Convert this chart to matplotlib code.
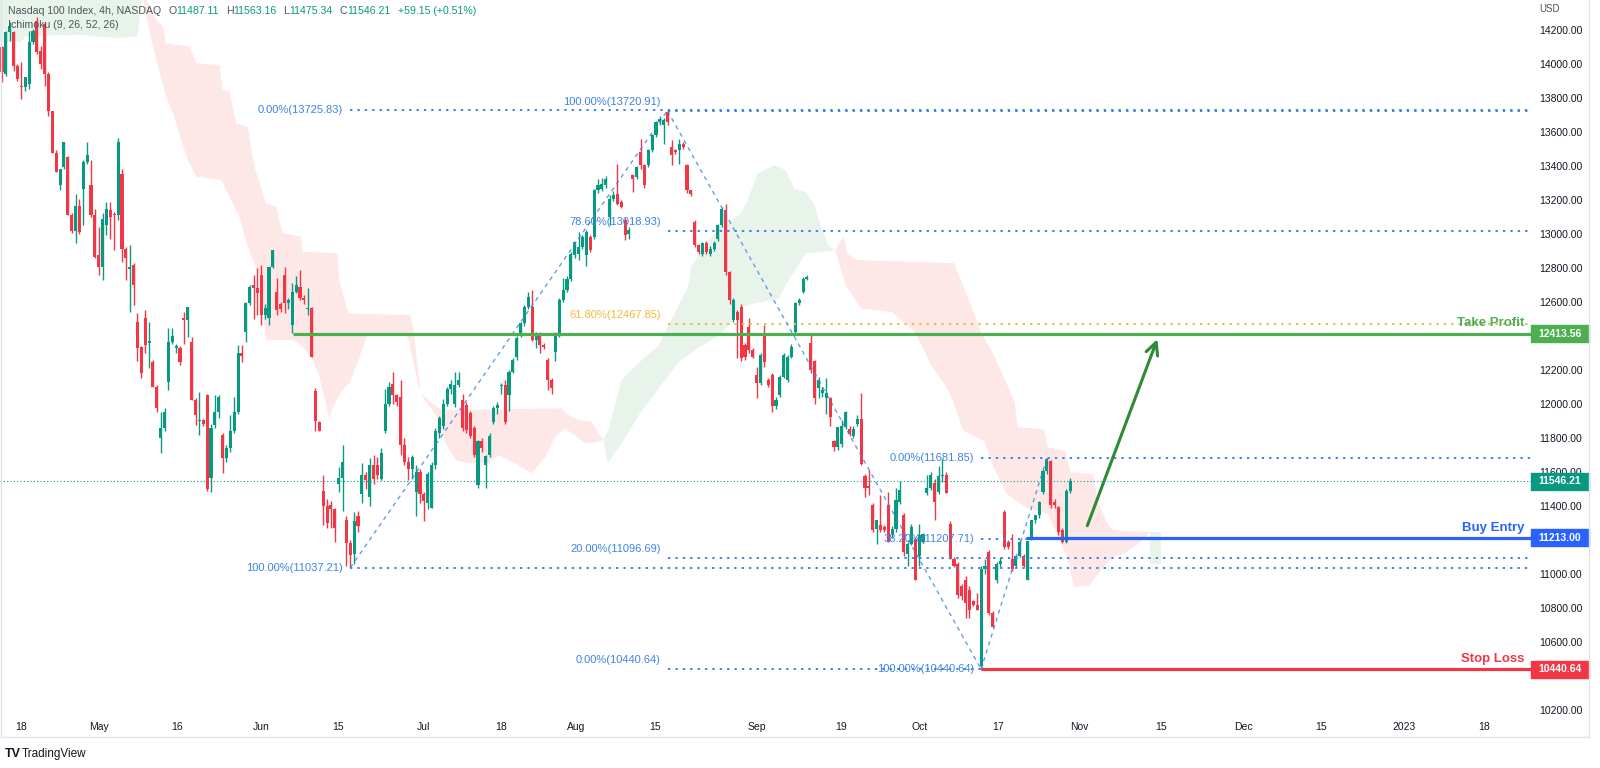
import matplotlib
matplotlib.use("Agg")
import matplotlib.pyplot as plt
import matplotlib.transforms as mtransforms
from matplotlib.patches import Rectangle
from matplotlib.lines import Line2D
import numpy as np

plt.rcParams['font.family'] = ['Liberation Sans', 'DejaVu Sans']

# ---- 4h candles (Apr -> Oct 28 2022) ----
opens = [14096,13940,14184,14184,13989,13870,13861,13881,14125,14252,14076,14233,13940,13719,13476,13285,13392,13451,13113,13015,
         13163,13265,13422,13285,13113,12874,12806,13050,13138,13118,13109,13353,12913,12795,12815,12483,12336,12506,12360,12248,
         12102,11799,11858,12131,12365,12327,12327,12506,12493,12366,12024,11897,11906,12053,11564,11877,11955,11818,11681,11740,
         11838,11955,12297,12424,12596,
         12698,12680,12757,12522,12503,12806,12659,12586,12757,12591,12464,12659,12689,12620,12556,12561,
         12073,11893,11486,11398,11408,11380,11530,11564,11320,11183,11115,11340,11470,11583,11450,11640,11640,11560,11840,12000,
         12120,12050,12040,11760,11660,11620,11480,11600,11470,11420,11390,11640,11830,11870,12000,12090,12000,12110,12024,11994,
         11945,11857,11525,
         11780,11642,11700,11896,11975,12105,12112,12053,12190,12278,12405,12473,12571,12571,12376,12405,12346,12258,12141,12307,
         12405,12610,12670,12737,
         12874,12880,12923,12874,12981,12981,13255,13265,13285,13099,13207,13236,13187,13080,13001,13343,13333,13480,13402,13402,
         13490,13578,13656,13637,13715,13510,13490,13490,13529,13402,13255,13070,12933,12884,12943,12884,12913,12972,13050,13138,
         12776,12493,12542,12571,12346,12454,12317,12170,12121,12405,12141,12170,11985,12053,12161,12141,12278,12424,12591,12659,
         12737,
         12360,12250,12091,12062,12032,12032,11783,11744,11763,11863,11853,11813,11883,11912,11574,11515,11405,11267,11287,11277,
         11405,11227,11267,11426,11346,11118,11177,11207,11108,11187,11475,11505,11535,11485,11574,11584,11297,11088,11058,10929,
         10968,10909,10839,10820,10462,11028,11128,10770,10968,11058,11366,11187,11088,11048,11108,11108,10968,11207,11316,11346,
         11485,11604,11664,11426,11396,11257,11187,11487.11]
highs = [14105,14194,14243,14194,13995,14008,13920,14194,14203,14272,14105,14243,13950,13724,13490,13382,13539,13460,13120,13236,
         13207,13431,13539,13431,13148,13040,13120,13187,13187,13130,13562,13380,12923,12932,12830,12532,12340,12551,12483,12260,
         12110,11955,11975,12444,12444,12350,12340,12542,12571,12395,12033,12072,11910,12060,11880,12053,12053,11830,11760,11936,
         12043,12346,12346,12600,12698,
         12757,12800,12815,12590,12806,12903,12740,12600,12806,12620,12708,12750,12786,12640,12680,12570,
         12096,11900,11584,11440,11430,11390,11627,11760,11340,11200,11364,11370,11650,11600,11680,11700,11690,11740,12090,12130,
         12190,12060,12140,11800,11690,11700,11640,11620,11480,11600,11660,11860,11930,12030,12100,12140,12190,12190,12060,12010,
         11960,11870,11790,
         11800,11700,11830,11990,12010,12125,12140,12200,12270,12400,12480,12580,12660,12670,12420,12420,12360,12270,12150,12420,
         12620,12740,12750,12890,
         12960,13010,12990,13020,12990,13265,13320,13330,13340,13230,13250,13412,13200,13090,13040,13350,13400,13558,13410,13500,
         13585,13660,13690,13680,13721,13549,13500,13558,13540,13412,13260,13079,12940,12950,12960,12930,12960,13060,13160,13177,
         12780,12620,12550,12590,12360,12503,12330,12219,12300,12464,12150,12180,12040,12170,12300,12290,12350,12600,12620,12745,
         12760,
         12419,12260,12161,12100,12151,12040,11790,11800,11903,11960,11870,11870,11932,12062,11590,11614,11415,11290,11465,11290,
         11480,11280,11505,11545,11360,11187,11296,11220,11296,11240,11584,11600,11560,11634,11674,11600,11310,11100,11070,10940,
         10990,10930,10850,10890,11048,11090,11140,10780,11070,11100,11376,11200,11237,11110,11200,11120,11197,11320,11350,11430,
         11620,11682,11670,11440,11400,11270,11500,11563.16]
lows = [13891,13930,14135,13959,13900,13793,13842,13851,14116,14057,13969,13871,13695,13476,13362,13255,13382,13110,13006,12943,
        13000,13050,13412,13100,12855,12757,12727,12991,12972,12903,13080,12835,12727,12542,12581,12250,12150,12300,12210,12100,
        11955,11711,11840,12082,12350,12300,12229,12355,12395,12024,11877,11818,11870,11490,11480,11860,11920,11594,11660,11720,
        11830,11940,12248,12365,12580,
        12500,12522,12464,12500,12464,12800,12522,12540,12532,12560,12415,12650,12610,12590,12522,12278,
        11842,11842,11291,11271,11270,11190,11480,11370,11050,11037,11060,11250,11420,11500,11400,11530,11560,11550,11830,11990,
        12000,11990,11700,11640,11550,11560,11340,11420,11310,11380,11390,11620,11800,11850,11990,12060,11980,12100,11840,11830,
        11800,11690,11505,
        11720,11505,11690,11880,11940,12060,11880,11960,12180,12260,12395,12460,12560,12370,12330,12300,12320,12080,12060,12250,
        12395,12600,12660,12720,
        12860,12845,12910,12810,12890,12970,13240,13250,13270,13050,13190,13170,13150,12962,12972,13245,13320,13380,13270,13395,
        13480,13570,13640,13529,13640,13402,13470,13412,13500,13240,13220,12920,12880,12870,12880,12870,12900,12960,13040,12760,
        12590,12480,12268,12250,12260,12300,12270,12034,12110,12219,12100,11955,11970,12040,12150,12130,12270,12415,12580,12650,
        12730,
        12181,12002,12032,12040,11942,11873,11724,11730,11744,11850,11810,11800,11870,11640,11455,11465,11247,11177,11250,11250,
        11187,11210,11250,11410,11108,11048,11170,10968,11048,11180,11465,11495,11316,11470,11540,11475,11088,11040,10860,10850,
        10740,10740,10810,10790,10441,11000,10760,10690,10950,11040,11150,11150,11020,11040,11100,11040,10968,11200,11300,11330,
        11470,11590,11390,11390,11230,11180,11180,11475.34]
closes = [13949,14184,14223,13989,13910,13860,13920,14129,14194,14067,13998,13940,13724,13476,13363,13382,13539,13113,13015,13163,
          13011,13422,13461,13113,12862,12806,13089,13144,13099,13109,13539,12913,12855,12800,12698,12327,12180,12346,12370,12102,
          11975,11858,11955,12365,12401,12340,12248,12495,12571,12024,11936,11906,11880,11500,11858,11955,12043,11681,11740,11838,
          11955,12297,12283,12596,12688,
          12680,12650,12522,12561,12806,12903,12552,12556,12591,12610,12659,12698,12620,12610,12566,12278,
          11897,11842,11398,11300,11380,11271,11564,11660,11183,11110,11310,11280,11583,11550,11640,11560,11580,11710,12000,12100,
          12050,12010,11760,11660,11620,11690,11600,11470,11430,11590,11640,11840,11920,12000,12090,12120,12110,12140,11857,11848,
          11809,11701,11780,
          11740,11691,11810,11975,11994,12112,11896,12190,12258,12385,12473,12571,12630,12376,12405,12346,12337,12141,12092,12405,
          12610,12670,12737,12884,
          12952,12923,12981,13011,12903,13255,13285,13295,13324,13207,13226,13177,13158,12991,13021,13324,13392,13402,13285,13490,
          13578,13656,13676,13666,13656,13461,13480,13529,13510,13255,13236,12933,12894,12943,12894,12913,12943,13050,13148,12776,
          12610,12610,12493,12268,12278,12317,12278,12121,12288,12249,12112,11985,12024,12161,12288,12278,12337,12591,12610,12737,
          12747,
          12201,12032,12141,12082,12062,11922,11744,11863,11873,11952,11823,11853,11912,11644,11505,11505,11257,11316,11257,11257,
          11187,11267,11435,11495,11128,11177,11277,10968,11227,11237,11505,11584,11426,11574,11584,11475,11088,11048,10879,10869,
          10830,10790,10820,10790,11028,11048,10770,10690,11058,11078,11157,11157,11028,11108,11187,11048,11197,11316,11346,11426,
          11604,11674,11405,11405,11247,11187,11487,11546.21]

# ---- Ichimoku cloud edges (bar, price) ----
green1_top = [(-1, 14500), (36.3, 14500)]
green1_bot = [(-1, 14129), (5, 14129), (6, 14160), (20, 14170), (30, 14150), (35, 14160), (36.3, 14420)]
red1_top = [(36.3, 14420), (39.9, 14256), (41.6, 14217), (42.4, 14119), (48.5, 14100), (50.2, 14002), (56.2, 13992),
            (57, 13845), (58.8, 13835), (60.5, 13649), (63.5, 13630), (65.2, 13394), (68.2, 13179), (70.8, 13159),
            (72.5, 13003), (77.2, 12983), (77.7, 12895), (86.7, 12885), (87.1, 12728), (89.5, 12532), (105.6, 12522),
            (106.4, 12415), (107.3, 12238), (108.2, 12062), (111.2, 12003), (113.7, 11964), (144.7, 11974),
            (145.5, 11945), (149, 11906), (152.4, 11896), (154.1, 11828), (155.4, 11788)]
red1_bot = [(36.3, 14420), (37.5, 14250), (39.9, 14021), (42.4, 13806), (44.2, 13708), (46.3, 13551), (48, 13434),
            (50.2, 13336), (56.6, 13316), (58.8, 13218), (61.3, 13101), (63.5, 12924), (66.5, 12748), (68.2, 12376),
            (75.1, 12376), (77.2, 12346), (79.8, 12278), (80.7, 12238), (82, 12160), (83.7, 12003), (84.5, 11915),
            (85.8, 11993), (88, 12082), (89.7, 12121), (91.8, 12238), (94, 12376), (94.8, 12415), (104.3, 12415),
            (105.2, 12366), (106, 12278), (107.7, 12101), (108.6, 12043), (110.3, 11993), (112.9, 11905),
            (114.6, 11768), (117.2, 11670), (120.6, 11651), (125.8, 11651), (128.3, 11700), (132.6, 11651),
            (136.9, 11592), (140.4, 11690), (143, 11808), (145.5, 11857), (150.7, 11769), (154.1, 11779), (155.4, 11788)]
green2_top = [(155.4, 11788), (156.7, 11847), (160.1, 12141), (164.4, 12239), (169.5, 12337), (173.8, 12533),
              (177.3, 12689), (178.1, 12807), (184.2, 13003), (191, 13120), (192.7, 13199), (195.3, 13355),
              (199.6, 13404), (202.5, 13373), (204.7, 13264), (207.7, 13244), (209.9, 13174), (211.6, 13042),
              (213.8, 12924), (215.3, 12905)]
green2_bot = [(155.4, 11788), (156.5, 11650), (158, 11700), (161, 11800), (165, 11950), (170, 12100), (175, 12250),
              (180, 12330), (185, 12399), (187.7, 12459), (190.3, 12558), (193.8, 12588), (200.7, 12618),
              (202.5, 12697), (207.7, 12886), (213.8, 12896), (215.3, 12905)]
red3_top = [(215.3, 12905), (217.5, 12983), (218.5, 12880), (221, 12846), (246, 12827), (249, 12660), (253, 12420),
            (256, 12300), (258, 12200), (261.6, 12018), (262.5, 11862), (269.3, 11852), (270.3, 11744),
            (274.7, 11725), (276.1, 11598), (282, 11588), (283, 11432), (285.9, 11285), (287.3, 11256), (296.6, 11246)]
red3_bot = [(215.3, 12905), (218, 12700), (222, 12560), (230, 12540), (236, 12420), (240, 12230), (244, 12100),
            (246, 12000), (248.4, 11842), (253.8, 11783), (256.2, 11627), (259.6, 11471), (264.5, 11392),
            (270.3, 11353), (275.2, 11099), (277.1, 10923), (281, 10933), (283.9, 11021), (286.9, 11099),
            (289.8, 11119), (293.7, 11178), (296.6, 11246)]
green4_top = [(296.6, 11246), (299.6, 11246)]
green4_bot = [(296.6, 11060), (299.6, 11060)]

# ---- fibonacci drawings ----
fib1_start, fib1_end = 90, 172
fib1_levels = [("0.00%", 13725.83), ("100.00%", 11037.21)]
fib2_start, fib2_end = 172, 253
fib2_levels = [("100.00%", 13720.91), ("78.60%", 13018.93), ("61.80%", 12467.85), ("20.00%", 11096.69), ("0.00%", 10440.64)]
fib3_start, fib3_end = 253, 270
fib3_levels = [("0.00%", 11681.85), ("38.20%", 11207.71), ("100.00%", 10440.64)]

take_profit, tp_start = 12413.56, 75.2
buy_entry, be_start = 11213.00, 264.5
stop_loss, sl_start = 10440.64, 253
last_price = 11546.21
arrow_from = (280.2, 11269)
arrow_to = (298.8, 12396)

date_ticks = [4.8, 25.1, 45.2, 66.9, 86.7, 108.9, 129, 148.4, 168.7, 195.1, 216.8, 237.2, 257.3, 278.4, 299.6,
              320.8, 340.9, 362.3, 382.9]
date_labels = ["18", "May", "16", "Jun", "15", "Jul", "18", "Aug", "15", "Sep", "19", "Oct", "17", "Nov", "15",
               "Dec", "15", "2023", "18"]
price_ticks = [14200, 14000, 13800, 13600, 13400, 13200, 13000, 12800, 12600, 12200, 12000, 11800, 11600,
               11400, 11000, 10800, 10600, 10200]

header = [("Nasdaq 100 Index, 4h, NASDAQ", 'name', 7), ("O", 'name', 0), ("11487.11", 'val', 7),
          ("H", 'name', 0), ("11563.16", 'val', 7), ("L", 'name', 0), ("11475.34", 'val', 7),
          ("C", 'name', 0), ("11546.21", 'val', 7), ("+59.15 (+0.51%)", 'val', 0)]

UP, DOWN = '#089981', '#f23645'
FIB = '#3d84e6'

fig = plt.figure(figsize=(16, 7.68), dpi=100)
ax = fig.add_axes([0, 50 / 768, 1531 / 1600, 718 / 768])
ax.set_xlim(-0.52, 395.1)
ax.set_ylim(10154, 14374)
for s in ax.spines.values():
    s.set_visible(False)

# cloud
def fill_cloud(top, bot, color):
    xs = [p[0] for p in top] + [p[0] for p in bot[::-1]]
    ys = [p[1] for p in top] + [p[1] for p in bot[::-1]]
    ax.fill(xs, ys, color=color, lw=0, zorder=1)

fill_cloud(green1_top, green1_bot, '#e8f4ea')
fill_cloud(red1_top, red1_bot, '#fde8e7')
fill_cloud(green2_top, green2_bot, '#e8f4ea')
fill_cloud(red3_top, red3_bot, '#fde8e7')
fill_cloud(green4_top, green4_bot, '#e8f4ea')

# candles
o, h, l, c = (np.array(a, dtype=float) for a in (opens, highs, lows, closes))
x = np.arange(len(o))
cols = np.where(c >= o, UP, DOWN)
ax.vlines(x, l, h, colors=cols, lw=1, zorder=3)
ax.bar(x, np.maximum(np.abs(c - o), 8), bottom=np.minimum(o, c), width=0.8, color=cols, lw=0, zorder=4)

xr = ax.get_xlim()[1]
dotted = (0, (1.2, 2.6))

# current price line
ax.axhline(last_price, color=UP, lw=0.8, ls=(0, (1, 2)), zorder=2)

# fib 1
for name, v in fib1_levels:
    ax.plot([fib1_start, xr], [v, v], color=FIB, lw=1.4, ls=dotted, zorder=5)
    ax.text(fib1_start - 1.8, v, f"{name}({v:.2f})", color=FIB, fontsize=8, ha='right', va='center', zorder=6)
ax.plot([fib1_start, fib1_end], [11037.21, 13725.83], color=FIB, lw=1, ls=(0, (3, 3)), alpha=0.8, zorder=5)

# fib 2
for name, v in fib2_levels:
    col = '#f5b83d' if name == "61.80%" else FIB
    ax.plot([fib2_start, xr], [v, v], color=col, lw=1.4, ls=dotted, zorder=5)
    ax.annotate(f"{name}({v:.2f})", (fib2_start - 1.8, v), xytext=(0, 6.5), textcoords='offset points',
                color=col, fontsize=8, ha='right', va='center', zorder=6)
ax.plot([fib2_start, fib2_end], [13720.91, 10440.64], color=FIB, lw=1, ls=(0, (3, 3)), alpha=0.8, zorder=5)

# fib 3
for name, v in fib3_levels:
    ax.plot([fib3_start, xr], [v, v], color=FIB, lw=1.4, ls=dotted, zorder=5)
    ax.text(fib3_start - 1.8, v, f"{name}({v:.2f})", color=FIB, fontsize=8, ha='right', va='center', zorder=6)
ax.plot([fib3_start, fib3_end], [10440.64, 11681.85], color=FIB, lw=1, ls=(0, (3, 3)), alpha=0.8, zorder=5)

# trade levels
for val, start, col, name in [(take_profit, tp_start, '#4caf50', "Take Profit"),
                              (buy_entry, be_start, '#2962ff', "Buy Entry"),
                              (stop_loss, sl_start, '#f23645', "Stop Loss")]:
    ax.plot([start, xr], [val, val], color=col, lw=2.3, zorder=6, solid_capstyle='butt')
    ax.annotate(name, (393.3, val), xytext=(0, 3), textcoords='offset points', color=col,
                fontsize=9.5, fontweight='bold', ha='right', va='bottom', zorder=7)

ax.annotate("", xy=arrow_to, xytext=arrow_from,
            arrowprops=dict(arrowstyle='->', color='#2e8b35', lw=2.2, mutation_scale=22), zorder=7)

# axes ticks
ax.yaxis.tick_right()
ax.set_yticks(price_ticks)
ax.set_yticklabels([f"{p:.2f}" for p in price_ticks])
ax.tick_params(axis='y', length=0, pad=6, labelsize=7.5, labelcolor='#131722')
ax.set_xticks(date_ticks)
ax.set_xticklabels(date_labels)
ax.tick_params(axis='x', length=0, pad=3, labelsize=7.5, labelcolor='#131722')

# price boxes on the axis
blend = mtransforms.blended_transform_factory(ax.transAxes, ax.transData)
bw = 58 / 1531
for val, col in [(take_profit, '#4caf50'), (last_price, UP), (buy_entry, '#2962ff'), (stop_loss, '#f23645')]:
    ax.add_patch(Rectangle((1.0, val - 50), bw, 100, transform=blend, color=col, clip_on=False, zorder=8))
    ax.text(1.0 + bw / 2, val, f"{val:.2f}", transform=blend, color='white', fontsize=7.5,
            fontweight='bold', ha='center', va='center', clip_on=False, zorder=9)

# header, laid out piece by piece
renderer = fig.canvas.get_renderer()
hx = 8.0
for txt, kind, gap in header:
    t = fig.text(hx / 1600, 1 - 11 / 768, txt, fontsize=7.6, va='center',
                 color=UP if kind == 'val' else '#50535e')
    bb = t.get_window_extent(renderer)
    hx = bb.x1 + gap
fig.text(8 / 1600, 1 - 25 / 768, "Ichimoku (9, 26, 52, 26)", fontsize=7.6, color='#50535e', va='center')
fig.text(1539 / 1600, 1 - 9 / 768, "USD", fontsize=7, color='#50535e', va='center')

# frame
fig.add_artist(Line2D([1589 / 1600, 1589 / 1600], [1 - 737 / 768, 1], color='#e0e3eb', lw=1))
fig.add_artist(Line2D([0.5 / 1600, 1589 / 1600], [1 - 737 / 768, 1 - 737 / 768], color='#e0e3eb', lw=1))
fig.add_artist(Line2D([0.5 / 1600, 0.5 / 1600], [1 - 737 / 768, 1], color='#e0e3eb', lw=1))

fig.text(5 / 1600, 1 - 754 / 768, "TV", fontsize=9, fontweight='bold', color='#131722', va='center')
fig.text(22 / 1600, 1 - 754 / 768, "TradingView", fontsize=8.5, color='#131722', va='center')

fig.savefig("out.png", dpi=100, facecolor='white')
